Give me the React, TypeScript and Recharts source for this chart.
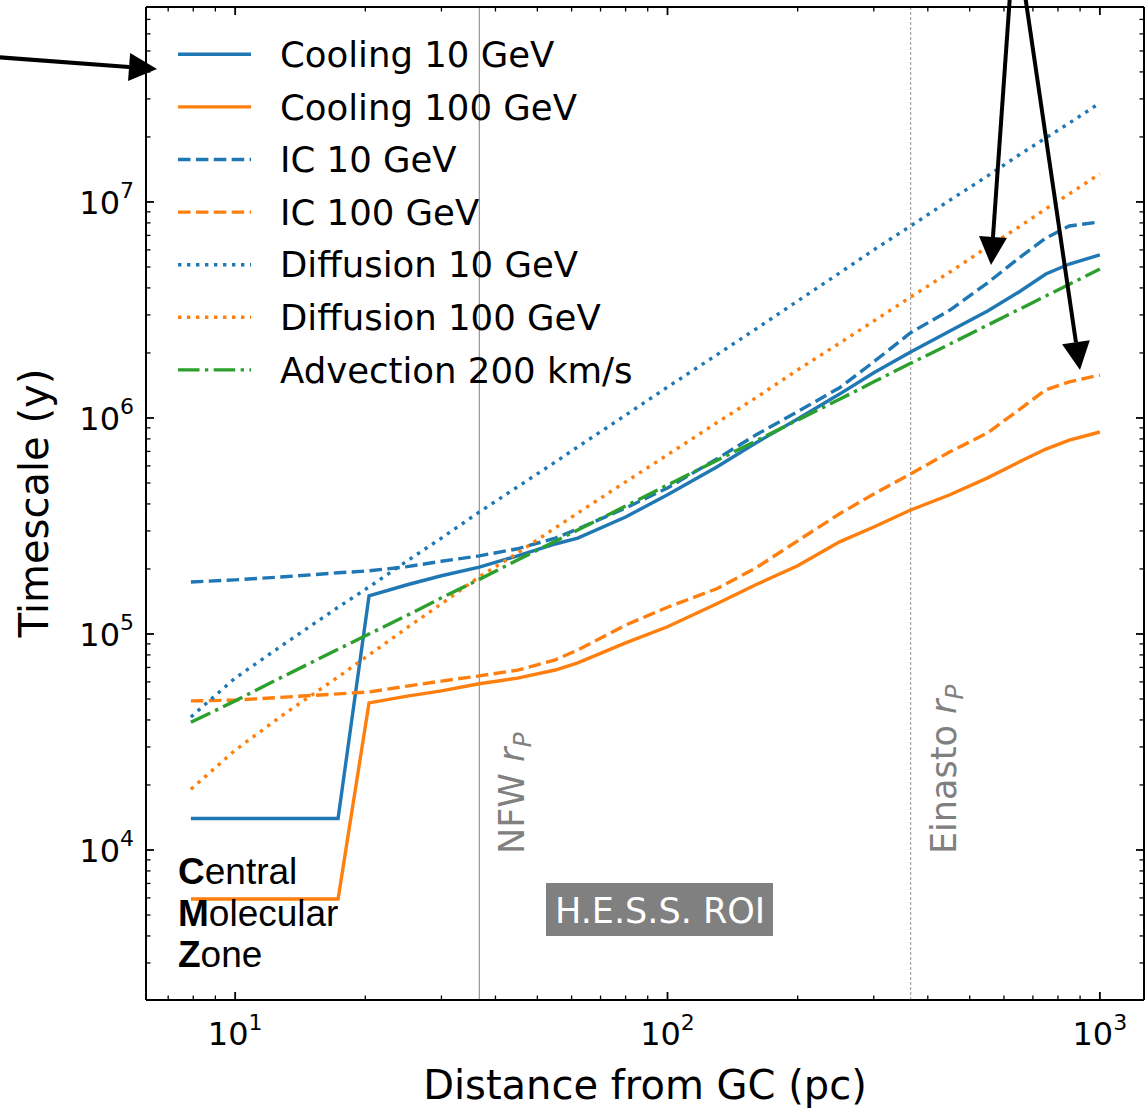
import React from "react";
import { LineChart, Line, XAxis, YAxis, ReferenceLine } from "recharts";

// distance from the Galactic Centre (pc)
const distance = [7.9, 10, 13, 17.3, 20.4, 25, 30, 36.7, 45, 55, 62, 80, 100, 130, 160, 200, 250, 300, 365, 450, 550, 650, 750, 850, 1000];

// timescales (years)
const cooling10 = [1.4e4, 1.4e4, 1.4e4, 1.4e4, 1.5e5, 1.69e5, 1.86e5, 2.04e5, 2.3e5, 2.61e5, 2.78e5, 3.48e5, 4.41e5, 5.93e5, 7.66e5, 9.9e5, 1.29e6, 1.62e6, 2.02e6, 2.53e6, 3.13e6, 3.83e6, 4.64e6, 5.16e6, 5.69e6];
const cooling100 = [5.93e3, 5.93e3, 5.93e3, 5.93e3, 4.8e4, 5.16e4, 5.45e4, 5.88e4, 6.25e4, 6.81e4, 7.35e4, 9.09e4, 1.08e5, 1.38e5, 1.69e5, 2.07e5, 2.67e5, 3.13e5, 3.75e5, 4.41e5, 5.28e5, 6.25e5, 7.18e5, 7.9e5, 8.61e5];
const ic10 = [1.74e5, 1.78e5, 1.84e5, 1.92e5, 1.96e5, 2.05e5, 2.17e5, 2.3e5, 2.48e5, 2.78e5, 3.06e5, 3.83e5, 4.74e5, 6.46e5, 8.34e5, 1.07e6, 1.38e6, 1.82e6, 2.48e6, 3.16e6, 4.22e6, 5.5e6, 6.81e6, 7.74e6, 8.08e6];
const ic100 = [4.9e4, 4.94e4, 5.1e4, 5.28e4, 5.39e4, 5.74e4, 6.05e4, 6.4e4, 6.8e4, 7.59e4, 8.44e4, 1.1e5, 1.33e5, 1.62e5, 2.02e5, 2.7e5, 3.6e5, 4.45e5, 5.51e5, 6.97e5, 8.53e5, 1.09e6, 1.35e6, 1.47e6, 1.58e6];
const diffusion10 = [4.13e4, 6.25e4, 9.0e4, 1.33e5, 1.65e5, 2.18e5, 2.78e5, 3.67e5, 4.8e5, 6.25e5, 7.35e5, 1.03e6, 1.39e6, 1.96e6, 2.58e6, 3.48e6, 4.69e6, 6.0e6, 7.74e6, 1.02e7, 1.32e7, 1.65e7, 1.98e7, 2.32e7, 2.87e7];
const diffusion100 = [1.91e4, 2.9e4, 4.27e4, 6.32e4, 8.0e4, 1.07e5, 1.38e5, 1.84e5, 2.37e5, 3.1e5, 3.63e5, 5.06e5, 6.75e5, 9.5e5, 1.24e6, 1.67e6, 2.22e6, 2.81e6, 3.63e6, 4.74e6, 6.19e6, 7.66e6, 9.29e6, 1.09e7, 1.35e7];
const advection = [3.9e4, 4.9e4, 6.4e4, 8.5e4, 1.0e5, 1.22e5, 1.47e5, 1.79e5, 2.2e5, 2.69e5, 3.03e5, 3.91e5, 4.89e5, 6.36e5, 7.82e5, 9.78e5, 1.22e6, 1.47e6, 1.79e6, 2.2e6, 2.69e6, 3.18e6, 3.67e6, 4.16e6, 4.89e6];

const xTicks = [7, 8, 9, 10, 20, 30, 40, 50, 60, 70, 80, 90, 100, 200, 300, 400, 500, 600, 700, 800, 900, 1000];
const yTicks = [3e3, 4e3, 5e3, 6e3, 7e3, 8e3, 9e3, 1e4, 2e4, 3e4, 4e4, 5e4, 6e4, 7e4, 8e4, 9e4, 1e5, 2e5, 3e5, 4e5, 5e5, 6e5, 7e5, 8e5, 9e5, 1e6, 2e6, 3e6, 4e6, 5e6, 6e6, 7e6, 8e6, 9e6, 1e7, 2e7, 3e7, 4e7, 5e7, 6e7, 7e7];

const nfwRadius = 36.7;
const einastoRadius = 365;

const xDomain = [6.22, 1265];
const yDomain = [2021, 7.99e7];

const BLUE = "#1f77b4";
const ORANGE = "#ff7f0e";
const GREEN = "#2ca02c";
const LW = 3.4;
const DASHED = "12.5 5.4";
const DOTTED = "3.4 5.6";
const DASHDOT = "21.5 5.4 3.4 5.4";
const FONT = "DejaVu Sans, sans-serif";

const series = [
  { key: "cooling10", name: "Cooling 10 GeV", values: cooling10, color: BLUE, dash: undefined },
  { key: "cooling100", name: "Cooling 100 GeV", values: cooling100, color: ORANGE, dash: undefined },
  { key: "ic10", name: "IC 10 GeV", values: ic10, color: BLUE, dash: DASHED },
  { key: "ic100", name: "IC 100 GeV", values: ic100, color: ORANGE, dash: DASHED },
  { key: "diffusion10", name: "Diffusion 10 GeV", values: diffusion10, color: BLUE, dash: DOTTED },
  { key: "diffusion100", name: "Diffusion 100 GeV", values: diffusion100, color: ORANGE, dash: DOTTED },
  { key: "advection", name: "Advection 200 km/s", values: advection, color: GREEN, dash: DASHDOT },
];

const rows = distance.map((r, i) => {
  const row: Record<string, number> = { r };
  series.forEach((s) => (row[s.key] = s.values[i]));
  return row;
});

const isMajor = (v: number) => Math.abs(Math.log10(v) - Math.round(Math.log10(v))) < 1e-9;

// inward ticks like matplotlib's direction='in', labels only on bottom/left
const makeTick = (side: "bottom" | "top" | "left" | "right") => (props: any) => {
  const { x, y, payload } = props;
  const v = payload.value;
  const major = isMajor(v);
  const len = major ? 8 : 4.5;
  const exp = Math.round(Math.log10(v));
  let c = { x1: x, x2: x, y1: y, y2: y };
  if (side === "bottom") c.y2 = y - len;
  if (side === "top") c.y2 = y + len;
  if (side === "left") c.x2 = x + len;
  if (side === "right") c.x2 = x - len;
  return (
    <g>
      <line {...c} stroke="#000" strokeWidth={major ? 1.8 : 1.3} />
      {major && side === "bottom" && (
        <text x={x} y={y + 45} textAnchor="middle" fontSize={32} fontFamily={FONT} fill="#000">
          10<tspan dy={-15} fontSize={22}>{exp}</tspan>
        </text>
      )}
      {major && side === "left" && (
        <text x={x - 12} y={y + 12.5} textAnchor="end" fontSize={32} fontFamily={FONT} fill="#000">
          10<tspan dy={-16} fontSize={22}>{exp}</tspan>
        </text>
      )}
    </g>
  );
};

const radiusLabel = (name: string) => (p: any) => {
  const vb = p.viewBox || {};
  const x = (vb.x || 0) + 45;
  return (
    <text transform={`translate(${x},854) rotate(-90)`} fill="#808080" fontSize={35} fontFamily={FONT}>
      {name} <tspan fontStyle="italic">r</tspan>
      <tspan fontStyle="italic" fontSize={25} dy={7}>P</tspan>
    </text>
  );
};

const arrows = [
  [-5, 57, 157, 69],
  [1010, -5, 991, 265],
  [1025, -5, 1080, 370],
];

const Arrow = ({ a }: { a: number[] }) => {
  const [x1, y1, x2, y2] = a;
  const d = Math.hypot(x2 - x1, y2 - y1);
  const ux = (x2 - x1) / d;
  const uy = (y2 - y1) / d;
  const bx = x2 - ux * 28;
  const by = y2 - uy * 28;
  const pts = `${x2},${y2} ${bx - uy * 14},${by + ux * 14} ${bx + uy * 14},${by - ux * 14}`;
  return (
    <g>
      <line x1={x1} y1={y1} x2={bx} y2={by} stroke="#000" strokeWidth={4} />
      <polygon points={pts} fill="#000" />
    </g>
  );
};

const axisStroke = { stroke: "#000", strokeWidth: 2 };

export default function App() {
  return (
    <div style={{ position: "absolute", left: 0, top: 0, width: 1147, height: 1108, background: "#fff" }}>
      <LineChart width={1147} height={1108} data={rows} margin={{ top: 6, right: 2, bottom: 48, left: 66 }}>
        <XAxis dataKey="r" type="number" scale="log" domain={xDomain} allowDataOverflow ticks={xTicks} interval={0}
          height={60} tickSize={0} tickMargin={0} tickLine={false} axisLine={axisStroke} tick={makeTick("bottom")} />
        <XAxis xAxisId="top" orientation="top" dataKey="r" type="number" scale="log" domain={xDomain} allowDataOverflow
          ticks={xTicks} interval={0} height={1} tickSize={0} tickMargin={0} tickLine={false} axisLine={axisStroke} tick={makeTick("top")} />
        <YAxis type="number" scale="log" domain={yDomain} allowDataOverflow ticks={yTicks} interval={0}
          width={80} tickSize={0} tickMargin={0} tickLine={false} axisLine={axisStroke} tick={makeTick("left")} />
        <YAxis yAxisId="right" orientation="right" type="number" scale="log" domain={yDomain} allowDataOverflow
          ticks={yTicks} interval={0} width={1} tickSize={0} tickMargin={0} tickLine={false} axisLine={axisStroke} tick={makeTick("right")} />
        <ReferenceLine x={nfwRadius} stroke="#808080" strokeWidth={1} label={radiusLabel("NFW")} />
        <ReferenceLine x={einastoRadius} stroke="#aaaaaa" strokeWidth={1.3} strokeDasharray="3 2" label={radiusLabel("Einasto")} />
        {series.map((s) => (
          <Line key={s.key} type="linear" dataKey={s.key} stroke={s.color} strokeWidth={LW} strokeDasharray={s.dash}
            dot={false} activeDot={false} isAnimationActive={false} />
        ))}
      </LineChart>
      <svg width={1147} height={1108} style={{ position: "absolute", left: 0, top: 0, pointerEvents: "none" }}>
        {series.map((s, i) => {
          const y = 54.3 + i * 52.6;
          return (
            <g key={s.key}>
              <line x1={178} x2={251} y1={y} y2={y} stroke={s.color} strokeWidth={LW} strokeDasharray={s.dash} />
              <text x={280} y={y + 12.7} fontSize={35.5} fontFamily={FONT} fill="#000">{s.name}</text>
            </g>
          );
        })}
        <g fontFamily="Liberation Sans, Arial, sans-serif" fontSize={37} fill="#000">
          <text x={178} y={884}><tspan fontWeight="bold">C</tspan>entral</text>
          <text x={178} y={926}><tspan fontWeight="bold">M</tspan>olecular</text>
          <text x={178} y={967}><tspan fontWeight="bold">Z</tspan>one</text>
        </g>
        <rect x={546} y={883} width={227} height={53} fill="#808080" />
        <text x={555} y={923} fontSize={35} fontFamily={FONT} fill="#fff">H.E.S.S. ROI</text>
        <text x={645} y={1099} textAnchor="middle" fontSize={40} fontFamily={FONT} fill="#000">Distance from GC (pc)</text>
        <text transform="translate(48,503) rotate(-90)" textAnchor="middle" fontSize={40} fontFamily={FONT} fill="#000">Timescale (y)</text>
        {arrows.map((a, i) => <Arrow key={i} a={a} />)}
      </svg>
    </div>
  );
}
